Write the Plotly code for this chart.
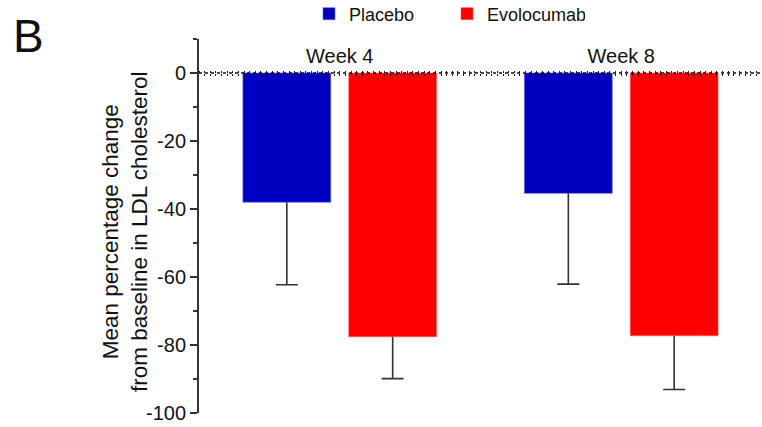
import plotly.graph_objects as go

weeks = ["Week 4", "Week 8"]
placebo = [-38.0, -35.4]
placebo_sd = [24.3, 26.7]
evolocumab = [-77.6, -77.3]
evolocumab_sd = [12.3, 15.8]
ytick_vals = [0, -20, -40, -60, -80, -100]
ytick_text = ["0", "-20", "-40", "-60", "-80", "-100"]
y_title = "Mean percentage change<br>from baseline in LDL cholesterol"
panel_label = "B"

BLUE = "#0000C0"
RED = "#FF0000"
ERR = "#333333"
FONT = "Liberation Sans, Arial, sans-serif"

fig = go.Figure()
# error-bar carriers drawn first so the real bars hide the upper half
fig.add_trace(go.Bar(x=weeks, y=placebo, offsetgroup="p", showlegend=False,
                     marker=dict(color="rgba(0,0,0,0)", line=dict(width=0)),
                     error_y=dict(type="data", array=placebo_sd, color=ERR, thickness=1.6, width=11),
                     hoverinfo="skip"))
fig.add_trace(go.Bar(x=weeks, y=evolocumab, offsetgroup="e", showlegend=False,
                     marker=dict(color="rgba(0,0,0,0)", line=dict(width=0)),
                     error_y=dict(type="data", array=evolocumab_sd, color=ERR, thickness=1.6, width=11),
                     hoverinfo="skip"))
fig.add_trace(go.Bar(x=weeks, y=placebo, offsetgroup="p", name="Placebo",
                     marker=dict(color=BLUE, line=dict(color="#6060E0", width=0.6))))
fig.add_trace(go.Bar(x=weeks, y=evolocumab, offsetgroup="e", name="Evolocumab",
                     marker=dict(color=RED, line=dict(color="#FF6060", width=0.6))))

zero_pos = 100 / 110

fig.update_layout(
    width=762, height=427,
    margin=dict(l=199, r=0, t=39, b=14, autoexpand=False),
    paper_bgcolor="white", plot_bgcolor="white",
    font=dict(family=FONT, color="#111111", size=17),
    barmode="group", bargap=0.248, bargroupgap=0.17,
    showlegend=True,
    legend=dict(orientation="h", x=(309 - 199) / 563, xref="paper", xanchor="left",
                y=1 - 14 / 427, yref="container", yanchor="middle",
                font=dict(size=18, family=FONT, color="#111111"), itemwidth=30,
                entrywidth=93, bgcolor="rgba(0,0,0,0)"),
    xaxis=dict(type="category", range=[-0.5, 1.5], side="top", anchor="free", position=zero_pos,
               showline=False, ticks="", showgrid=False, zeroline=False, ticklabelstandoff=6,
               tickfont=dict(size=20, family=FONT, color="#111111")),
    xaxis2=dict(range=[0, 1], overlaying="x", anchor="free", position=zero_pos, side="top",
                showline=False, showgrid=False, zeroline=False, showticklabels=False,
                ticks="outside", ticklen=2, tickwidth=1, tickcolor="#111111", dtick=0.01, tick0=0),
    xaxis3=dict(range=[0, 1], overlaying="x", anchor="free", position=zero_pos, side="top",
                showline=False, showgrid=False, zeroline=False, showticklabels=False,
                ticks="inside", ticklen=2, tickwidth=1, tickcolor="#111111", dtick=0.01, tick0=0),
    yaxis=dict(range=[-100, 10], tickvals=ytick_vals, ticktext=ytick_text,
               showline=True, linecolor="#333333", linewidth=2, showgrid=False, zeroline=False,
               ticks="outside", ticklen=7, tickwidth=2, tickcolor="#333333",
               minor=dict(dtick=10, tick0=0, ticks="outside", ticklen=4, tickwidth=2, tickcolor="#333333"),
               tickfont=dict(size=20, family=FONT, color="#111111")),
    shapes=[dict(type="line", xref="paper", yref="y", x0=0, x1=1, y0=0, y1=0,
                 line=dict(color="#111111", width=1.5, dash="dot"))],
    annotations=[
        dict(text=panel_label, xref="paper", yref="paper", x=(11 - 199) / 563, y=1 + (39 - 8) / 374,
             xanchor="left", yanchor="top", showarrow=False,
             font=dict(size=46, family=FONT, color="#111111")),
        dict(text=y_title, xref="paper", yref="paper", x=(125 - 199) / 563, y=(413 - 232) / 374,
             xanchor="center", yanchor="middle", showarrow=False, textangle=-90,
             font=dict(size=22.5, family=FONT, color="#111111")),
    ],
)
# empty helper traces to activate the axes that draw the dotted zero-line ticks
fig.add_trace(go.Scatter(x=[None], y=[None], xaxis="x2", showlegend=False, hoverinfo="skip"))
fig.add_trace(go.Scatter(x=[None], y=[None], xaxis="x3", showlegend=False, hoverinfo="skip"))

fig.write_html("out.html")
